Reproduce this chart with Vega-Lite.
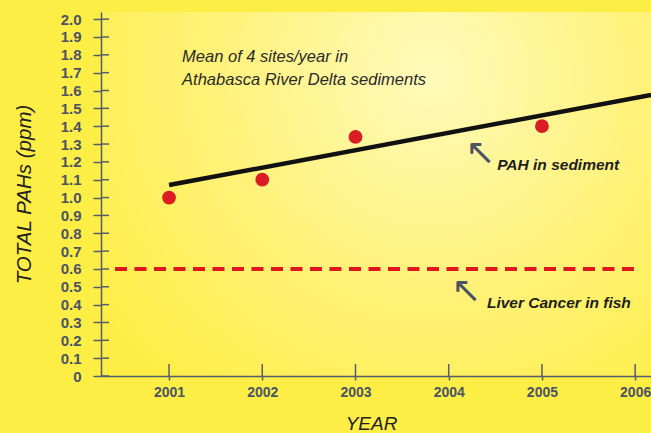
{
  "$schema": "https://vega.github.io/schema/vega-lite/v6.json",
  "width": 550,
  "height": 364,
  "autosize": "none",
  "padding": {"left": 101, "top": 12, "right": 0, "bottom": 57},
  "background": "#fdee45",
  "config": {
    "view": {"stroke": null, "fill": {"gradient": "radial", "x1": 0.6, "y1": 0.28, "x2": 0.6, "y2": 0.28, "r1": 0, "r2": 0.75, "stops": [{"offset": 0, "color": "#fffabb"}, {"offset": 0.5, "color": "#fff27c"}, {"offset": 1, "color": "#fdee45"}]}},
    "font": "Liberation Sans",
    "axis": {"labelOverlap": false, "labelSeparation": 0, "grid": false, "labelFont": "Liberation Sans", "labelFontWeight": "bold", "labelColor": "#4b5364", "tickWidth": 1.5, "tickColor": "#555c6b", "domainColor": "#555c6b", "domainWidth": 1.5, "titleFont": "Liberation Sans", "titleFontStyle": "italic", "titleFontWeight": "normal", "titleColor": "#222222"},
    "axisY": {"labelFontSize": 15, "tickSize": 8, "labelPadding": 12, "titleFontSize": 20.5, "titlePadding": 26},
    "axisX": {"labelFontSize": 14, "tickSize": 4, "labelPadding": 5, "titleFontSize": 19, "titlePadding": 15, "titleX": 270}
  },
  "datasets": {
    "points": [
      {"year": 2001, "value": 1.0},
      {"year": 2002, "value": 1.1},
      {"year": 2003, "value": 1.34},
      {"year": 2005, "value": 1.4}
    ],
    "trend": [
      {"year": 2001, "value": 1.07},
      {"year": 2006.17, "value": 1.575}
    ],
    "threshold": [
      {"year": 2000.42, "value": 0.6},
      {"year": 2006.03, "value": 0.6}
    ],
    "yticks": [
      {"value": 0}, {"value": 0.1}, {"value": 0.2}, {"value": 0.3}, {"value": 0.4},
      {"value": 0.5}, {"value": 0.6}, {"value": 0.7}, {"value": 0.8}, {"value": 0.9},
      {"value": 1.0}, {"value": 1.1}, {"value": 1.2}, {"value": 1.3}, {"value": 1.4},
      {"value": 1.5}, {"value": 1.6}, {"value": 1.7}, {"value": 1.8}, {"value": 1.9},
      {"value": 2.0}
    ],
    "xticks": [
      {"year": 2001}, {"year": 2002}, {"year": 2003}, {"year": 2004}, {"year": 2005}, {"year": 2006}
    ],
    "one": [{"k": 1}]
  },
  "layer": [
    {
      "data": {"name": "yticks"},
      "mark": {"type": "rule", "color": "#555c6b", "strokeWidth": 1.5},
      "encoding": {
        "y": {"field": "value", "type": "quantitative", "scale": {"domain": [0, 2.04], "nice": false, "zero": false},
          "axis": {"title": "TOTAL PAHs (ppm)", "values": [0, 0.1, 0.2, 0.3, 0.4, 0.5, 0.6, 0.7, 0.8, 0.9, 1.0, 1.1, 1.2, 1.3, 1.4, 1.5, 1.6, 1.7, 1.8, 1.9, 2.0], "labelExpr": "datum.value == 0 ? '0' : format(datum.value, '.1f')", "labelOverlap": false}},
        "x": {"datum": 2000.27, "scale": {"domain": [2000.27, 2006.17], "nice": false, "zero": false},
          "axis": {"title": "YEAR", "values": [2001, 2002, 2003, 2004, 2005, 2006], "format": "d", "labelOverlap": false}},
        "x2": {"datum": 2000.356}
      }
    },
    {
      "data": {"name": "xticks"},
      "mark": {"type": "rule", "color": "#555c6b", "strokeWidth": 1.5},
      "encoding": {
        "x": {"field": "year", "type": "quantitative", "scale": {"domain": [2000.27, 2006.17], "nice": false, "zero": false},
          "axis": {"title": "YEAR", "values": [2001, 2002, 2003, 2004, 2005, 2006], "format": "d", "labelOverlap": false}},
        "y": {"datum": 0, "scale": {"domain": [0, 2.04], "nice": false, "zero": false},
          "axis": {"title": "TOTAL PAHs (ppm)", "values": [0, 0.1, 0.2, 0.3, 0.4, 0.5, 0.6, 0.7, 0.8, 0.9, 1.0, 1.1, 1.2, 1.3, 1.4, 1.5, 1.6, 1.7, 1.8, 1.9, 2.0], "labelExpr": "datum.value == 0 ? '0' : format(datum.value, '.1f')", "labelOverlap": false}},
        "y2": {"datum": 0.067}
      }
    },
    {
      "data": {"name": "threshold"},
      "mark": {"type": "line", "color": "#e0161e", "strokeWidth": 4, "strokeDash": [12, 7.5]},
      "encoding": {
        "x": {"field": "year", "type": "quantitative", "scale": {"domain": [2000.27, 2006.17], "nice": false, "zero": false},
          "axis": {"title": "YEAR", "values": [2001, 2002, 2003, 2004, 2005, 2006], "format": "d", "labelOverlap": false}},
        "y": {"field": "value", "type": "quantitative", "scale": {"domain": [0, 2.04], "nice": false, "zero": false},
          "axis": {"title": "TOTAL PAHs (ppm)", "values": [0, 0.1, 0.2, 0.3, 0.4, 0.5, 0.6, 0.7, 0.8, 0.9, 1.0, 1.1, 1.2, 1.3, 1.4, 1.5, 1.6, 1.7, 1.8, 1.9, 2.0], "labelExpr": "datum.value == 0 ? '0' : format(datum.value, '.1f')", "labelOverlap": false}}
      }
    },
    {
      "data": {"name": "trend"},
      "mark": {"type": "line", "color": "#111111", "strokeWidth": 4.5, "clip": true},
      "encoding": {
        "x": {"field": "year", "type": "quantitative", "scale": {"domain": [2000.27, 2006.17], "nice": false, "zero": false},
          "axis": {"title": "YEAR", "values": [2001, 2002, 2003, 2004, 2005, 2006], "format": "d", "labelOverlap": false}},
        "y": {"field": "value", "type": "quantitative", "scale": {"domain": [0, 2.04], "nice": false, "zero": false},
          "axis": {"title": "TOTAL PAHs (ppm)", "values": [0, 0.1, 0.2, 0.3, 0.4, 0.5, 0.6, 0.7, 0.8, 0.9, 1.0, 1.1, 1.2, 1.3, 1.4, 1.5, 1.6, 1.7, 1.8, 1.9, 2.0], "labelExpr": "datum.value == 0 ? '0' : format(datum.value, '.1f')", "labelOverlap": false}}
      }
    },
    {
      "data": {"name": "points"},
      "mark": {"type": "circle", "color": "#dc1c24", "opacity": 1, "size": 190},
      "encoding": {
        "x": {"field": "year", "type": "quantitative", "scale": {"domain": [2000.27, 2006.17], "nice": false, "zero": false},
          "axis": {"title": "YEAR", "values": [2001, 2002, 2003, 2004, 2005, 2006], "format": "d", "labelOverlap": false}},
        "y": {"field": "value", "type": "quantitative", "scale": {"domain": [0, 2.04], "nice": false, "zero": false},
          "axis": {"title": "TOTAL PAHs (ppm)", "values": [0, 0.1, 0.2, 0.3, 0.4, 0.5, 0.6, 0.7, 0.8, 0.9, 1.0, 1.1, 1.2, 1.3, 1.4, 1.5, 1.6, 1.7, 1.8, 1.9, 2.0], "labelExpr": "datum.value == 0 ? '0' : format(datum.value, '.1f')", "labelOverlap": false}}
      }
    },
    {
      "data": {"name": "one"},
      "mark": {"type": "text", "align": "left", "baseline": "alphabetic", "font": "Liberation Sans", "fontStyle": "italic", "fontSize": 16.5, "color": "#2a2a2a", "lineHeight": 23},
      "encoding": {
        "x": {"datum": 2001.14, "scale": {"domain": [2000.27, 2006.17], "nice": false, "zero": false},
          "axis": {"title": "YEAR", "values": [2001, 2002, 2003, 2004, 2005, 2006], "format": "d", "labelOverlap": false}},
        "y": {"datum": 1.761, "scale": {"domain": [0, 2.04], "nice": false, "zero": false},
          "axis": {"title": "TOTAL PAHs (ppm)", "values": [0, 0.1, 0.2, 0.3, 0.4, 0.5, 0.6, 0.7, 0.8, 0.9, 1.0, 1.1, 1.2, 1.3, 1.4, 1.5, 1.6, 1.7, 1.8, 1.9, 2.0], "labelExpr": "datum.value == 0 ? '0' : format(datum.value, '.1f')", "labelOverlap": false}},
        "text": {"value": ["Mean of 4 sites/year in", "Athabasca River Delta sediments"]}
      }
    },
    {
      "data": {"name": "one"},
      "mark": {"type": "text", "align": "left", "baseline": "alphabetic", "font": "Liberation Sans", "fontStyle": "italic", "fontWeight": "bold", "fontSize": 15.5, "color": "#1e1e1e"},
      "encoding": {
        "x": {"datum": 2004.52, "scale": {"domain": [2000.27, 2006.17], "nice": false, "zero": false},
          "axis": {"title": "YEAR", "values": [2001, 2002, 2003, 2004, 2005, 2006], "format": "d", "labelOverlap": false}},
        "y": {"datum": 1.154, "scale": {"domain": [0, 2.04], "nice": false, "zero": false},
          "axis": {"title": "TOTAL PAHs (ppm)", "values": [0, 0.1, 0.2, 0.3, 0.4, 0.5, 0.6, 0.7, 0.8, 0.9, 1.0, 1.1, 1.2, 1.3, 1.4, 1.5, 1.6, 1.7, 1.8, 1.9, 2.0], "labelExpr": "datum.value == 0 ? '0' : format(datum.value, '.1f')", "labelOverlap": false}},
        "text": {"value": "PAH in sediment"}
      }
    },
    {
      "data": {"name": "one"},
      "mark": {"type": "text", "align": "left", "baseline": "alphabetic", "font": "Liberation Sans", "fontStyle": "italic", "fontWeight": "bold", "fontSize": 15.5, "color": "#1e1e1e"},
      "encoding": {
        "x": {"datum": 2004.41, "scale": {"domain": [2000.27, 2006.17], "nice": false, "zero": false},
          "axis": {"title": "YEAR", "values": [2001, 2002, 2003, 2004, 2005, 2006], "format": "d", "labelOverlap": false}},
        "y": {"datum": 0.381, "scale": {"domain": [0, 2.04], "nice": false, "zero": false},
          "axis": {"title": "TOTAL PAHs (ppm)", "values": [0, 0.1, 0.2, 0.3, 0.4, 0.5, 0.6, 0.7, 0.8, 0.9, 1.0, 1.1, 1.2, 1.3, 1.4, 1.5, 1.6, 1.7, 1.8, 1.9, 2.0], "labelExpr": "datum.value == 0 ? '0' : format(datum.value, '.1f')", "labelOverlap": false}},
        "text": {"value": "Liver Cancer in fish"}
      }
    },
    {
      "data": {"name": "one"},
      "mark": {"type": "text", "align": "center", "baseline": "middle", "font": "DejaVu Sans", "fontSize": 36, "color": "#4b5364"},
      "encoding": {
        "x": {"datum": 2004.34, "scale": {"domain": [2000.27, 2006.17], "nice": false, "zero": false},
          "axis": {"title": "YEAR", "values": [2001, 2002, 2003, 2004, 2005, 2006], "format": "d", "labelOverlap": false}},
        "y": {"datum": 1.249, "scale": {"domain": [0, 2.04], "nice": false, "zero": false},
          "axis": {"title": "TOTAL PAHs (ppm)", "values": [0, 0.1, 0.2, 0.3, 0.4, 0.5, 0.6, 0.7, 0.8, 0.9, 1.0, 1.1, 1.2, 1.3, 1.4, 1.5, 1.6, 1.7, 1.8, 1.9, 2.0], "labelExpr": "datum.value == 0 ? '0' : format(datum.value, '.1f')", "labelOverlap": false}},
        "text": {"value": "↖"}
      }
    },
    {
      "data": {"name": "one"},
      "mark": {"type": "text", "align": "center", "baseline": "middle", "font": "DejaVu Sans", "fontSize": 36, "color": "#4b5364"},
      "encoding": {
        "x": {"datum": 2004.19, "scale": {"domain": [2000.27, 2006.17], "nice": false, "zero": false},
          "axis": {"title": "YEAR", "values": [2001, 2002, 2003, 2004, 2005, 2006], "format": "d", "labelOverlap": false}},
        "y": {"datum": 0.476, "scale": {"domain": [0, 2.04], "nice": false, "zero": false},
          "axis": {"title": "TOTAL PAHs (ppm)", "values": [0, 0.1, 0.2, 0.3, 0.4, 0.5, 0.6, 0.7, 0.8, 0.9, 1.0, 1.1, 1.2, 1.3, 1.4, 1.5, 1.6, 1.7, 1.8, 1.9, 2.0], "labelExpr": "datum.value == 0 ? '0' : format(datum.value, '.1f')", "labelOverlap": false}},
        "text": {"value": "↖"}
      }
    }
  ]
}
